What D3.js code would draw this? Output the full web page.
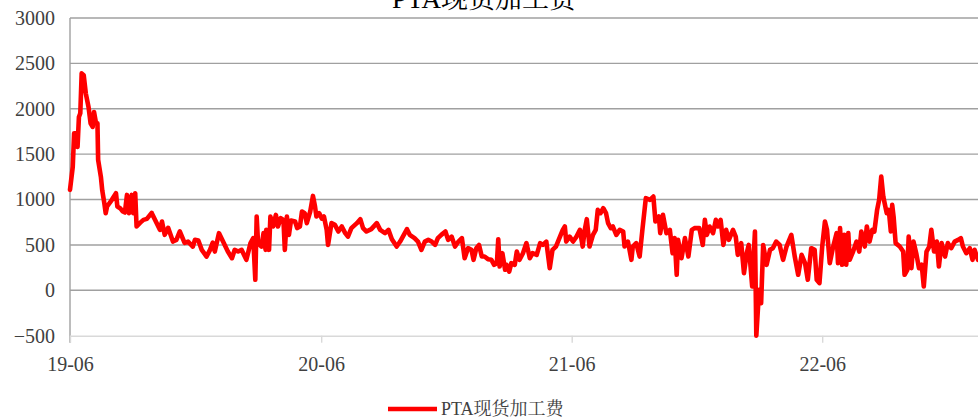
<!DOCTYPE html>
<html>
<head>
<meta charset="utf-8">
<script src="https://cdn.jsdelivr.net/npm/d3@7"></script>
<style>
  html, body { margin: 0; padding: 0; background: #fff; }
  svg { display: block; }
</style>
</head>
<body>
<svg id="chart" width="978" height="418"></svg>
<script>
// PTA spot processing fee, daily series (yuan/ton)
const seriesName = "PTA现货加工费";
const startDate = new Date(2019, 5, 1);
const endOffset = 1323;
const FONT = '"Liberation Serif", "Noto Serif CJK SC", "Times New Roman"';

// days elapsed since startDate
const dayOffsets = [
  0, 4, 6, 9, 11, 13, 15, 17, 20, 23, 27, 30, 33, 35, 38, 40, 41, 45, 47, 50,
  52, 54, 61, 67, 69, 73, 77, 80, 83, 86, 90, 92, 95, 97, 102, 107, 112, 119, 126, 131,
  134, 138, 143, 150, 155, 160, 167, 172, 179, 182, 187, 192, 199, 204, 208, 211, 217, 223, 230, 236,
  240, 245, 250, 257, 263, 267, 270, 272, 274, 279, 282, 285, 286, 290, 292, 296, 300, 303, 307, 311,
  313, 316, 319, 322, 328, 331, 335, 338, 342, 345, 350, 354, 357, 359, 363, 367, 370, 374, 376, 381,
  386, 391, 396, 401, 405, 410, 418, 423, 427, 432, 439, 447, 452, 459, 464, 469, 476, 481, 485, 491,
  495, 502, 507, 512, 517, 522, 527, 532, 536, 541, 547, 551, 556, 561, 566, 571, 575, 580, 585, 588,
  592, 596, 600, 604, 609, 614, 618, 622, 624, 626, 630, 634, 636, 640, 643, 648, 651, 655, 660, 665,
  670, 674, 680, 685, 689, 694, 699, 703, 708, 711, 715, 718, 721, 723, 728, 733, 738, 743, 747, 750,
  753, 757, 762, 766, 769, 773, 777, 781, 784, 788, 791, 796, 801, 806, 808, 813, 818, 820, 825, 830,
  834, 839, 845, 850, 853, 858, 860, 864, 869, 874, 878, 881, 884, 886, 891, 896, 901, 906, 910, 917,
  922, 925, 928, 932, 937, 941, 944, 948, 952, 956, 960, 966, 970, 973, 978, 982, 986, 989, 994, 998,
  1000, 1004, 1007, 1010, 1015, 1020, 1024, 1029, 1034, 1039, 1044, 1051, 1056, 1061, 1066, 1071, 1075, 1080, 1085, 1088,
  1092, 1096, 1100, 1103, 1107, 1112, 1117, 1119, 1122, 1125, 1128, 1131, 1134, 1136, 1141, 1146, 1150, 1153, 1158, 1161,
  1165, 1169, 1172, 1176, 1179, 1182, 1185, 1187, 1190, 1193, 1196, 1198, 1200, 1203, 1209, 1214, 1216, 1220, 1222, 1226,
  1229, 1233, 1237, 1241, 1244, 1248, 1252, 1255, 1259, 1263, 1266, 1270, 1275, 1279, 1284, 1289, 1294, 1298, 1301, 1306,
  1311, 1315, 1318, 1323
];

const feeValues = [
  1107, 1360, 1730, 1730, 1580, 1910, 1950, 2390, 2370, 2170, 2020, 1840, 1800, 1965, 1840, 1840, 1436, 1250, 1100, 960,
  850, 923, 997, 1070, 923, 905, 868, 857, 1051, 850, 1051, 850, 1070, 703, 743, 776, 787, 853, 743, 666,
  758, 611, 688, 537, 556, 648, 523, 537, 482, 556, 548, 446, 372, 446, 526, 427, 630, 537, 427, 354,
  446, 427, 446, 336, 520, 575, 116, 813, 520, 482, 630, 446, 666, 446, 813, 703, 831, 703, 795, 776,
  446, 813, 611, 769, 758, 685, 703, 868, 850, 740, 868, 1040, 923, 813, 850, 790, 813, 666, 500, 740,
  721, 648, 703, 630, 592, 685, 740, 784, 685, 648, 674, 740, 666, 630, 666, 563, 482, 537, 592, 674,
  611, 575, 537, 446, 537, 556, 537, 500, 575, 611, 648, 556, 592, 482, 537, 575, 354, 464, 446, 336,
  464, 500, 372, 372, 343, 336, 281, 299, 563, 262, 409, 226, 281, 207, 299, 281, 427, 336, 409, 520,
  354, 409, 391, 520, 500, 537, 244, 446, 482, 537, 611, 666, 703, 537, 592, 537, 592, 666, 482, 666,
  784, 482, 611, 666, 886, 850, 905, 850, 740, 685, 703, 611, 666, 648, 482, 537, 336, 482, 520, 372,
  666, 1015, 997, 1033, 758, 813, 630, 831, 630, 666, 409, 575, 171, 556, 354, 575, 372, 666, 685, 685,
  500, 776, 611, 703, 630, 776, 703, 776, 500, 666, 556, 666, 592, 391, 520, 189, 409, 500, 42, 648,
  -500, 5, -141, 500, 281, 446, 464, 537, 500, 336, 482, 611, 372, 171, 391, 299, 116, 464, 446, 116,
  79, 482, 758, 666, 299, 482, 630, 299, 685, 281, 611, 281, 630, 336, 427, 537, 427, 648, 482, 703,
  537, 666, 648, 886, 997, 1253, 1033, 960, 850, 886, 648, 941, 813, 520, 482, 427, 171, 226, 592, 244,
  537, 409, 244, 281, 42, 427, 482, 666, 427, 537, 262, 520, 372, 520, 464, 537, 556, 575, 482, 409,
  464, 336, 446, 336
];

const yTicks = [-500, 0, 500, 1000, 1500, 2000, 2500, 3000];
const xTickDates = [startDate, new Date(2020, 5, 1), new Date(2021, 5, 1), new Date(2022, 5, 1)];

const data = dayOffsets.map((d, i) => ({ date: d3.timeDay.offset(startDate, d), value: feeValues[i] }));

const svg = d3.select("#chart");
const plotLeft = 70, plotRight = 978, plotTop = 18, plotBottom = 335.7;

const x = d3.scaleTime()
  .domain([startDate, d3.timeDay.offset(startDate, endOffset)])
  .range([plotLeft, plotRight]);
const y = d3.scaleLinear().domain([-500, 3000]).range([plotBottom, plotTop]);

// horizontal gridlines
svg.append("g")
  .selectAll("line")
  .data(yTicks.filter(t => t > -500))
  .join("line")
  .attr("x1", plotLeft).attr("x2", plotRight)
  .attr("y1", d => y(d)).attr("y2", d => y(d))
  .attr("stroke", "#a0a0a0").attr("stroke-width", 1.4);

// y axis labels
const yAxis = svg.append("g")
  .attr("transform", `translate(${plotLeft},0)`)
  .call(d3.axisLeft(y).tickValues(yTicks).tickSize(0).tickPadding(15).tickFormat(d3.format("d")));
yAxis.attr("font-family", null);
yAxis.select(".domain").remove();
yAxis.selectAll("text")
  .attr("font-size", 20)
  .attr("fill", "#404040")
  .style("font-family", FONT);

// y axis line
svg.append("line")
  .attr("x1", plotLeft).attr("x2", plotLeft)
  .attr("y1", plotTop).attr("y2", plotBottom + 7)
  .attr("stroke", "#a0a0a0").attr("stroke-width", 1.4);

// x axis
const xAxis = svg.append("g")
  .attr("transform", `translate(0,${plotBottom})`)
  .call(d3.axisBottom(x).tickValues(xTickDates).tickSize(7).tickPadding(14).tickFormat(d3.timeFormat("%y-%m")));
xAxis.attr("font-family", null);
xAxis.select(".domain").attr("stroke", "#d9d9d9").attr("stroke-width", 1.4)
  .attr("d", `M${plotLeft},0.5H${plotRight}`);
xAxis.selectAll("line").attr("stroke", "#d9d9d9").attr("stroke-width", 1.4);
xAxis.selectAll("text")
  .attr("font-size", 20)
  .attr("fill", "#404040")
  .style("font-family", FONT);

// series line
const line = d3.line()
  .x(d => x(d.date))
  .y(d => y(d.value));

svg.append("path")
  .datum(data)
  .attr("d", line)
  .attr("fill", "none")
  .attr("stroke", "#ff0000")
  .attr("stroke-width", 4.6)
  .attr("stroke-linejoin", "round")
  .attr("stroke-linecap", "round");

// title
svg.append("text")
  .attr("x", 484).attr("y", 8)
  .attr("text-anchor", "middle")
  .attr("font-size", 27)
  .attr("fill", "#000")
  .style("font-family", FONT)
  .text(seriesName);

// legend
const legend = svg.append("g");
legend.append("line")
  .attr("x1", 388).attr("x2", 437)
  .attr("y1", 409).attr("y2", 409)
  .attr("stroke", "#ff0000").attr("stroke-width", 4.6);
legend.append("text")
  .attr("x", 441).attr("y", 415)
  .attr("font-size", 18)
  .attr("fill", "#404040")
  .style("font-family", FONT)
  .text(seriesName);
</script>
</body>
</html>
